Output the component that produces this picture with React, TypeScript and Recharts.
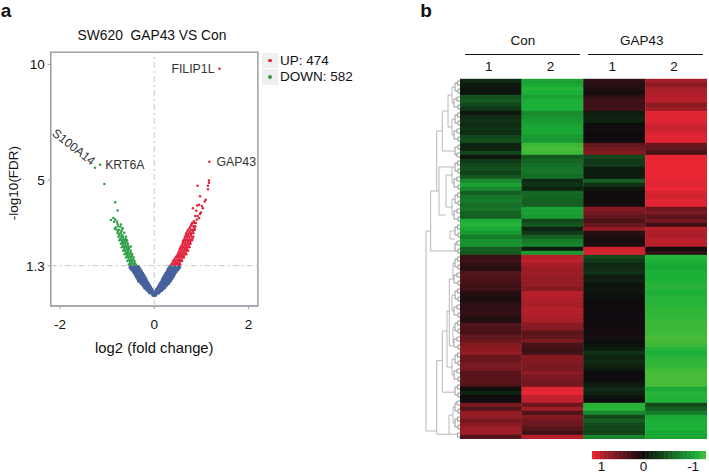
import {
  Bar,
  BarChart,
  Cell,
  Label,
  Legend,
  ReferenceArea,
  ReferenceDot,
  ReferenceLine,
  Scatter,
  ScatterChart,
  XAxis,
  YAxis,
} from "recharts";

const FONT = '"Liberation Sans", Arial, sans-serif';
const RED = "#e2203a";
const GREEN = "#2f9e44";
const BLUE = "#46619c";

// panel a: volcano plot, [log2 fold change, -log10 FDR]
const xTicks = [-2, 0, 2];
const yTicks = [1.3, 5, 10];

const notSigLeft = [
  [-0.02, 0.05], [-0.04, 0.15], [-0.09, 0.15], [-0.06, 0.25], [-0.1, 0.25], [-0.14, 0.25],
  [-0.09, 0.35], [-0.14, 0.35], [-0.19, 0.35], [-0.12, 0.45], [-0.17, 0.45], [-0.22, 0.45],
  [-0.15, 0.55], [-0.21, 0.55], [-0.27, 0.55], [-0.18, 0.65], [-0.25, 0.65], [-0.32, 0.65],
  [-0.2, 0.75], [-0.27, 0.75], [-0.34, 0.75], [-0.23, 0.85], [-0.3, 0.85], [-0.37, 0.85],
  [-0.26, 0.95], [-0.33, 0.95], [-0.4, 0.95], [-0.29, 1.05], [-0.37, 1.05], [-0.43, 1.05],
  [-0.32, 1.15], [-0.39, 1.15], [-0.47, 1.15], [-0.35, 1.23], [-0.43, 1.23], [-0.5, 1.23],
];
const notSigRight = [
  [0.02, 0.05], [0.04, 0.15], [0.09, 0.15], [0.06, 0.25], [0.11, 0.25], [0.15, 0.25],
  [0.09, 0.35], [0.15, 0.35], [0.2, 0.35], [0.12, 0.45], [0.18, 0.45], [0.24, 0.45],
  [0.15, 0.55], [0.22, 0.55], [0.29, 0.55], [0.18, 0.65], [0.26, 0.65], [0.33, 0.65],
  [0.2, 0.75], [0.28, 0.75], [0.36, 0.75], [0.23, 0.85], [0.31, 0.85], [0.39, 0.85],
  [0.26, 0.95], [0.34, 0.95], [0.42, 0.95], [0.29, 1.05], [0.37, 1.05], [0.45, 1.05],
  [0.31, 1.15], [0.4, 1.15], [0.49, 1.15], [0.34, 1.23], [0.43, 1.23], [0.52, 1.23],
];
const downPoints = [
  [-0.54, 1.35], [-0.49, 1.35], [-0.44, 1.35], [-0.39, 1.35],
  [-0.57, 1.5], [-0.52, 1.5], [-0.47, 1.5], [-0.42, 1.5],
  [-0.6, 1.65], [-0.55, 1.65], [-0.5, 1.65], [-0.44, 1.65],
  [-0.63, 1.8], [-0.58, 1.8], [-0.53, 1.8], [-0.47, 1.8],
  [-0.66, 1.95], [-0.61, 1.95], [-0.56, 1.95], [-0.5, 1.95],
  [-0.69, 2.1], [-0.64, 2.1], [-0.59, 2.1], [-0.54, 2.1], [-0.5, 2.13],
  [-0.71, 2.25], [-0.66, 2.25], [-0.61, 2.25], [-0.56, 2.25],
  [-0.74, 2.4], [-0.69, 2.4], [-0.63, 2.4], [-0.58, 2.4],
  [-0.76, 2.55], [-0.7, 2.55], [-0.66, 2.55], [-0.6, 2.55],
  [-0.78, 2.7], [-0.72, 2.7], [-0.64, 2.72],
  [-0.8, 2.85], [-0.75, 2.85], [-0.69, 2.85], [-0.82, 2.95], [-0.72, 2.98],
  [-0.78, 3.1], [-0.71, 3.08], [-0.85, 3.2], [-0.79, 3.2],
  [-0.515, 1.42], [-0.465, 1.42], [-0.415, 1.42], [-0.545, 1.57], [-0.495, 1.57], [-0.445, 1.57],
  [-0.575, 1.72], [-0.525, 1.72], [-0.475, 1.72], [-0.605, 1.87], [-0.555, 1.87], [-0.505, 1.87],
  [-0.635, 2.02], [-0.585, 2.02], [-0.535, 2.02], [-0.665, 2.17], [-0.615, 2.17], [-0.565, 2.17],
  [-0.685, 2.33], [-0.635, 2.33], [-0.59, 2.33], [-0.72, 2.47], [-0.66, 2.47], [-0.61, 2.47],
  [-0.74, 2.63], [-0.68, 2.63], [-0.77, 2.78], [-0.7, 2.78], [-0.84, 2.9], [-0.77, 3.0], [-0.67, 2.92],
  [-0.92, 3.28], [-0.87, 3.36], [-0.83, 3.3], [-0.78, 3.69], [-0.83, 4.04],
  [-1.06, 4.83], [-1.26, 5.53], [-1.15, 5.66],
];
const upPoints = [
  [0.36, 1.35], [0.41, 1.35], [0.46, 1.35], [0.51, 1.35], [0.55, 1.35],
  [0.4, 1.5], [0.45, 1.5], [0.5, 1.5], [0.55, 1.5], [0.59, 1.5],
  [0.45, 1.65], [0.5, 1.65], [0.55, 1.65], [0.6, 1.65], [0.63, 1.65],
  [0.5, 1.8], [0.55, 1.8], [0.6, 1.8], [0.65, 1.8], [0.68, 1.8],
  [0.53, 1.95], [0.58, 1.95], [0.63, 1.95], [0.68, 1.95], [0.72, 1.95],
  [0.56, 2.1], [0.61, 2.1], [0.66, 2.1], [0.7, 2.1], [0.75, 2.1],
  [0.6, 2.25], [0.65, 2.25], [0.7, 2.25], [0.75, 2.25], [0.77, 2.25],
  [0.62, 2.4], [0.67, 2.4], [0.72, 2.4], [0.77, 2.4], [0.8, 2.4],
  [0.65, 2.55], [0.7, 2.55], [0.74, 2.55], [0.79, 2.55], [0.83, 2.55],
  [0.68, 2.7], [0.74, 2.7], [0.78, 2.7], [0.83, 2.7],
  [0.72, 2.85], [0.78, 2.85], [0.82, 2.85], [0.86, 2.85],
  [0.77, 3.0], [0.83, 3.0], [0.87, 3.0], [0.8, 3.15], [0.85, 3.15], [0.88, 3.15],
  [0.385, 1.42], [0.435, 1.42], [0.485, 1.42], [0.535, 1.42], [0.425, 1.57], [0.475, 1.57],
  [0.525, 1.57], [0.575, 1.57], [0.475, 1.72], [0.525, 1.72], [0.575, 1.72], [0.625, 1.72],
  [0.515, 1.87], [0.565, 1.87], [0.615, 1.87], [0.665, 1.87], [0.545, 2.02], [0.595, 2.02],
  [0.645, 2.02], [0.695, 2.02], [0.58, 2.17], [0.63, 2.17], [0.68, 2.17], [0.73, 2.17],
  [0.61, 2.33], [0.66, 2.33], [0.71, 2.33], [0.76, 2.33], [0.64, 2.47], [0.69, 2.47],
  [0.75, 2.47], [0.81, 2.47], [0.67, 2.63], [0.72, 2.63], [0.78, 2.63], [0.7, 2.78],
  [0.76, 2.78], [0.82, 2.78], [0.75, 2.93], [0.85, 2.93], [0.79, 3.08], [0.84, 3.22],
  [0.9, 3.29], [0.95, 3.35], [0.87, 3.45], [0.92, 3.45], [0.97, 3.53], [0.99, 3.6],
  [0.89, 3.68], [0.82, 3.78], [1.03, 3.78], [1.01, 3.88], [0.91, 3.9], [0.95, 3.93],
  [1.07, 4.07], [1.09, 4.15], [0.97, 4.3], [1.14, 4.6], [0.92, 4.76], [1.14, 4.76],
  [1.16, 4.88], [1.16, 4.98], [1.17, 5.79], [1.385, 9.81],
];
const UP_COUNT = 474;
const DOWN_COUNT = 582;

// panel b: heat map, one value per row for each sample
const sampleLabels = ["1", "2", "1", "2"];
const groupLabels = ["Con", "GAP43"];
const con1 = [
  -0.2, -0.1, -0.05, -0.05, -0.45, -0.5, -0.4, -0.3, -0.05, -0.2, -0.25, -0.2, -0.25, -0.2, -0.4,
  -0.45, -0.15, -0.15, -0.4, -0.05, -0.3, -0.4, -0.45, -0.35, -0.5, -0.85, -1.0, -0.85, -0.55, -0.7,
  -0.75, -0.65, -0.7, -0.6, -0.55, -1.1, -1.15, -1.05, -0.95, -0.75, -0.9, -0.9, -0.55, -0.5,
  0.25, 0.3, 0.2, 0.15, 0.4, 0.4, 0.35, 0.3, 0.3, 0.15, 0.1, 0.1, 0.2, 0.2, 0.25, 0.15, 0.1, 0.4,
  0.35, 0.35, 0.5, 0.55, 0.7, 0.75, 0.8, 0.55, 0.55, 0.65, 0.65, 0.45, 0.45, 0.45, 0.4, -0.03,
  -0.15, 0.0, 0.02, 0.65, 0.4, 0.8, 0.8, 0.6, 0.75, 0.85, 0.85, 0.4,
];
const con2 = [
  -1.0, -1.05, -1.15, -1.1, -1.0, -1.1, -1.1, -1.1, -0.85, -0.9, -0.95, -1.0, -1.05, -1.05, -0.95,
  -0.95, -1.25, -1.3, -1.25, -0.5, -0.6, -0.65, -0.7, -0.7, -0.65, -0.2, -0.25, -0.15, -0.6, -0.6,
  -0.55, -0.55, -1.0, -1.0, -0.95, -0.4, -0.5, -0.15, -0.3, -0.55, -0.75, -0.8, -0.1, -0.95,
  1.0, 1.05, 0.9, 0.85, 0.85, 0.8, 0.8, 0.8, 0.7, 1.0, 1.0, 0.95, 0.9, 1.0, 1.0, 0.95, 0.9, 0.75,
  0.7, 0.45, 0.5, 0.65, 0.35, 0.3, 0.3, 0.7, 0.7, 0.65, 0.65, 0.75, 0.65, 0.6, 0.6, 1.25, 1.3, 1.1,
  1.05, 0.55, 0.85, 0.4, 0.7, 0.6, 0.55, 0.45, 0.3, 1.0,
];
const gap1 = [
  0.2, 0.15, 0.1, 0.05, 0.2, 0.3, 0.3, 0.3, -0.1, -0.15, -0.15, 0.0, 0.03, 0.0, 0.0, 0.0, 0.5, 0.6,
  0.7, -0.4, -0.3, -0.3, -0.1, -0.1, -0.1, -0.55, -0.25, -0.05, 0.0, 0.0, 0.0, 0.05, 0.7, 0.6, 0.5,
  0.35, 0.55, 0.8, 0.15, 0.1, 0.05, 0.1, 1.15, 1.2,
  -0.4, -0.3, -0.2, -0.2, -0.25, -0.1, -0.12, -0.05, -0.05, -0.05, -0.03, 0.0, 0.0, 0.0, 0.02, 0.02,
  0.02, 0.03, 0.03, 0.04, 0.08, -0.03, -0.03, -0.1, -0.25, -0.15, -0.2, -0.15, -0.1, 0.0, 0.0, -0.02,
  -0.1, -0.2, -0.15, -0.05, 0.0, -1.15, -1.15, -0.85, -0.4, -0.55, -0.4, -0.4, -0.35, -0.8,
];
const gap2 = [
  0.9, 0.75, 0.9, 0.95, 1.0, 1.0, 0.75, 0.85, 1.25, 1.25, 1.25, 1.15, 1.1, 1.2, 1.25, 1.25, 0.55,
  0.5, 0.35, 1.3, 1.3, 1.3, 1.3, 1.3, 1.3, 1.25, 1.25, 1.3, 1.2, 1.15, 1.25, 1.25, 0.55, 0.65, 0.45,
  0.6, 0.3, 1.0, 0.95, 0.95, 1.05, 1.0, 0.05, 0.2,
  -1.15, -1.1, -1.05, -1.05, -1.1, -1.1, -1.1, -1.15, -1.15, -1.1, -1.15, -1.15, -1.15, -1.2, -1.2,
  -1.2, -1.25, -1.25, -1.25, -1.25, -1.3, -1.3, -1.25, -1.15, -1.1, -1.15, -1.2, -1.2, -1.25, -1.3,
  -1.3, -1.3, -1.3, -1.05, -1.15, -1.15, -1.1, -0.4, -0.55, -0.75, -1.05, -1.1, -1.1, -1.1, -1.05,
  -1.05,
];
const colorbarSteps = [
  1.3, 1.15, 1, 0.9, 0.8, 0.72, 0.63, 0.54, 0.45, 0.36, 0.27, 0.18, 0.09, 0, -0.08, -0.16, -0.24,
  -0.32, -0.4, -0.48, -0.56, -0.64, -0.72, -0.8, -0.87, -0.94, -1, -1.1, -1.2, -1.3,
];
const colorbarTicks = [1, 0, -1];

// dendrogram merges: [height, top row, bottom row, height of top child, height of bottom child]
const dendroMerges = [
  [2.5, 0.5, 1.5, 0, 0], [2, 2.5, 3.5, 0, 0], [3, 4.5, 5.5, 0, 0], [2, 6.5, 7.5, 0, 0],
  [2.5, 8.5, 9.5, 0, 0], [2, 10.5, 11.5, 0, 0], [3, 12.5, 13.5, 0, 0], [2, 14.5, 15.5, 0, 0],
  [2, 16.5, 17.5, 0, 0], [3, 18.5, 19.5, 0, 0], [2.5, 20.5, 21.5, 0, 0], [2, 22.5, 23.5, 0, 0],
  [3, 24.5, 25.5, 0, 0], [2, 26.5, 27.5, 0, 0], [2.5, 28.5, 29.5, 0, 0], [2, 30.5, 31.5, 0, 0],
  [3, 32.5, 33.5, 0, 0], [2, 34.5, 35.5, 0, 0], [2.5, 36.5, 37.5, 0, 0], [2, 38.5, 39.5, 0, 0],
  [3, 40.5, 41.5, 0, 0], [2, 42.5, 43.5, 0, 0], [2.5, 44.5, 45.5, 0, 0], [2, 46.5, 47.5, 0, 0],
  [3, 48.5, 49.5, 0, 0], [2, 50.5, 51.5, 0, 0], [2.5, 52.5, 53.5, 0, 0], [2, 54.5, 55.5, 0, 0],
  [3, 56.5, 57.5, 0, 0], [2, 58.5, 59.5, 0, 0], [2.5, 60.5, 61.5, 0, 0], [2, 62.5, 63.5, 0, 0],
  [3, 64.5, 65.5, 0, 0], [2, 66.5, 67.5, 0, 0], [2.5, 68.5, 69.5, 0, 0], [2, 70.5, 71.5, 0, 0],
  [3, 72.5, 73.5, 0, 0], [2, 74.5, 75.5, 0, 0], [2.5, 76.5, 77.5, 0, 0], [2, 78.5, 79.5, 0, 0],
  [3, 80.5, 81.5, 0, 0], [2, 82.5, 83.5, 0, 0], [2.5, 84.5, 85.5, 0, 0], [2, 86.5, 87.5, 0, 0],
  [2.5, 88.5, 89.5, 0, 0],
  [5, 1, 3, 2.5, 2], [6, 5, 7, 3, 2], [5, 9, 11, 2.5, 2], [6, 13, 15, 3, 2], [5, 17, 19, 2, 3],
  [5, 21, 23, 2.5, 2], [6, 25, 27, 3, 2], [5, 29, 31, 2.5, 2], [6, 33, 35, 3, 2], [5, 37, 39, 2.5, 2],
  [5, 41, 43, 3, 2], [5, 45, 47, 2.5, 2], [6, 49, 51, 3, 2], [5, 53, 55, 2.5, 2], [6, 57, 59, 3, 2],
  [5, 61, 63, 2.5, 2], [6, 65, 67, 3, 2], [5, 69, 71, 2.5, 2], [6, 73, 75, 3, 2], [5, 77, 79, 2.5, 2],
  [5, 81, 83, 3, 2], [5, 85, 87, 2.5, 2],
  [8, 2, 6, 5, 6], [8, 10, 14, 5, 6], [8, 22, 26, 5, 6], [8, 30, 34, 5, 6], [7, 46, 50, 5, 6],
  [8, 54, 58, 5, 6], [7, 62, 66, 5, 6], [8, 70, 74, 5, 6], [7, 82, 86, 5, 5],
  [12, 4, 12, 8, 8], [17.7, 8, 18, 12, 5], [14, 24, 32, 8, 8], [10, 38, 40, 5, 5],
  [23.3, 13, 28, 17.7, 21], [21, 22, 34, 8, 14], [29.3, 28, 43, 23.3, 5],
  [10.7, 50, 66.7, 7, 7], [13, 58, 72, 10.7, 8], [17.7, 63, 78.3, 13, 5],
  [11, 84, 88.8, 7, 2.5], [23.3, 70.4, 88.8, 17.7, 11], [34, 38, 88, 29.3, 23.3],
];

const heatRows = con1.map((_, i) => ({
  row: i,
  w1: 1,
  w2: 1,
  w3: 1,
  w4: 1,
}));
const heatColumns = [con1, con2, gap1, gap2];
const heatKeys = ["w1", "w2", "w3", "w4"];
const colorbarRows = colorbarSteps.map((step) => ({ step, h: 1 }));
const dendroLeaves = con1.map((_, i) => ({ h: 0, r: i + 0.5 }));

const toPoints = (list: number[][]) => list.map(([x, y]) => ({ x, y }));

const mix = (a: number[], b: number[], t: number) =>
  `rgb(${a.map((c, i) => Math.round(c + (b[i] - c) * t)).join(",")})`;

// 0 = black, positive goes to red, negative to green
const heatColor = (v: number) => {
  if (v >= 0) return mix([14, 12, 14], [232, 38, 52], Math.min(v / 1.3, 1));
  if (v >= -1.1) return mix([13, 13, 12], [28, 176, 56], -v / 1.1);
  return mix([28, 176, 56], [72, 188, 58], Math.min((-v - 1.1) / 0.2, 1));
};

const dot = (r: number) => (props: any) =>
  <circle cx={props.cx} cy={props.cy} r={r} fill={props.fill} />;

const VolcanoLegend = (props: any) => (
  <div style={{ fontFamily: FONT, fontSize: 13.5, color: "#111" }}>
    {props.payload
      .filter((p: any) => p.type !== "none")
      .map((p: any) => (
        <div key={p.value} style={{ display: "flex", alignItems: "center", height: 16.3 }}>
          <div
            style={{
              width: 16.5,
              height: 15.5,
              background: "#efefef",
              marginRight: 2,
              display: "flex",
              alignItems: "center",
              justifyContent: "center",
            }}
          >
            <div style={{ width: 3.5, height: 3.5, borderRadius: 2, background: p.color }} />
          </div>
          {p.value}
        </div>
      ))}
  </div>
);

const Text = ({ x, y, size, bold, children }: any) => (
  <div
    style={{
      position: "absolute",
      left: x,
      top: y,
      fontFamily: FONT,
      fontSize: size,
      fontWeight: bold ? 700 : 400,
      lineHeight: 1,
      color: "#111",
      whiteSpace: "pre",
      transform: "translate(-50%, -50%)",
    }}
  >
    {children}
  </div>
);

const geneLabel = { fontFamily: FONT, fontSize: 12.3, fill: "#333" };
const dendroColor = (h: number) => (h < 7 ? "#8e8e8e" : "#b0b0b0");

export default function App() {
  return (
    <div style={{ position: "absolute", left: 0, top: 0, width: 709, height: 474, background: "#fff", overflow: "hidden" }}>
      <Text x={6} y={9.5} size={19} bold>a</Text>
      <Text x={426} y={9.5} size={19} bold>b</Text>
      <Text x={152} y={35.5} size={13.8}>{"SW620  GAP43 VS Con"}</Text>

      <div style={{ position: "absolute", left: 0, top: 0 }}>
        <ScatterChart width={370} height={360} margin={{ top: 52.3, right: 7.1, bottom: 4, left: 0 }}>
          <XAxis
            type="number"
            dataKey="x"
            domain={[-2.2, 2.2]}
            ticks={xTicks}
            height={50}
            tickSize={3}
            tickMargin={10}
            stroke="#a0a0a0"
            tick={{ fontFamily: FONT, fontSize: 13.5, fill: "#111" }}
          >
            <Label value="log2 (fold change)" position="insideBottom" offset={3} style={{ fontFamily: FONT, fontSize: 14.8, fill: "#111" }} />
          </XAxis>
          <YAxis
            type="number"
            dataKey="y"
            domain={[-0.44, 10.52]}
            ticks={yTicks}
            width={50.7}
            tickSize={3}
            tickMargin={3}
            stroke="#a0a0a0"
            tick={{ fontFamily: FONT, fontSize: 13.5, fill: "#111" }}
          >
            <Label value="-log10(FDR)" angle={-90} position="insideLeft" offset={13} dy={41} style={{ fontFamily: FONT, fontSize: 13.5, fill: "#111" }} />
          </YAxis>
          <ReferenceArea x1={-2.2} x2={2.2} y1={-0.44} y2={10.52} fill="none" stroke="#a0a0a0" strokeWidth={1.5} />
          <ReferenceLine segment={[{ x: 0, y: -0.44 }, { x: 2.2, y: -0.44 }]} stroke="#aab6d4" strokeWidth={1.5} />
          <ReferenceLine x={0} stroke="#d4d4d4" strokeWidth={1.2} strokeDasharray="6 3 2 3" />
          <ReferenceLine y={1.3} stroke="#d8cfd0" strokeWidth={1.2} strokeDasharray="6 3 2 3" />
          <Scatter name="NS" data={toPoints(notSigLeft)} fill={BLUE} shape={dot(2.3)} legendType="none" isAnimationActive={false} />
          <Scatter name="NS right" data={toPoints(notSigRight)} fill={BLUE} shape={dot(2.3)} legendType="none" isAnimationActive={false} />
          <Scatter name={`UP: ${UP_COUNT}`} data={toPoints(upPoints)} fill={RED} shape={dot(1.25)} isAnimationActive={false} />
          <Scatter name={`DOWN: ${DOWN_COUNT}`} data={toPoints(downPoints)} fill={GREEN} shape={dot(1.25)} isAnimationActive={false} />
          <ReferenceDot x={1.385} y={9.81} r={0} label={{ value: "FILIP1L", position: "left", offset: 5, ...geneLabel }} />
          <ReferenceDot x={1.17} y={5.79} r={0} label={{ value: "GAP43", position: "right", offset: 7, ...geneLabel }} />
          <ReferenceDot x={-1.15} y={5.66} r={0} label={{ value: "KRT6A", position: "right", offset: 5, ...geneLabel }} />
          <ReferenceDot x={-1.26} y={5.53} r={0}>
            <Label value="S100A14" angle={38} dx={-21} dy={-21} style={geneLabel} />
          </ReferenceDot>
          <Legend
            content={VolcanoLegend}
            layout="vertical"
            verticalAlign="top"
            align="right"
            itemSorter={null}
            wrapperStyle={{ left: 261.5, top: 52.5, width: 105 }}
          />
        </ScatterChart>
      </div>

      <Text x={523} y={41} size={13.5}>{groupLabels[0]}</Text>
      <Text x={641.7} y={41} size={13.5}>{groupLabels[1]}</Text>
      <div style={{ position: "absolute", left: 465, top: 53.5, width: 115, height: 1.4, background: "#111" }} />
      <div style={{ position: "absolute", left: 587.7, top: 53.5, width: 115, height: 1.4, background: "#111" }} />

      <div style={{ position: "absolute", left: 420, top: 79 }}>
        <ScatterChart width={40} height={360} margin={{ top: 0, right: 0, bottom: 0, left: 0 }}>
          <XAxis type="number" dataKey="h" domain={[0, 40]} reversed hide />
          <YAxis type="number" dataKey="r" domain={[0, 90]} reversed hide />
          <Scatter data={dendroLeaves} fill="#8e8e8e" shape={dot(0.3)} isAnimationActive={false} />
          {dendroMerges.flatMap(([h, y1, y2, h1, h2], i) => [
            <ReferenceLine key={`v${i}`} segment={[{ x: h, y: y1 }, { x: h, y: y2 }]} stroke={dendroColor(h)} strokeWidth={0.9} />,
            <ReferenceLine key={`a${i}`} segment={[{ x: h, y: y1 }, { x: h1, y: y1 }]} stroke={dendroColor(h)} strokeWidth={0.9} />,
            <ReferenceLine key={`b${i}`} segment={[{ x: h, y: y2 }, { x: h2, y: y2 }]} stroke={dendroColor(h)} strokeWidth={0.9} />,
          ])}
        </ScatterChart>
      </div>

      <div style={{ position: "absolute", left: 460, top: 59 }}>
        <BarChart
          layout="vertical"
          width={247}
          height={380}
          data={heatRows}
          barCategoryGap={0}
          margin={{ top: 0, right: 0, bottom: 0, left: 0 }}
        >
          <XAxis
            type="number"
            orientation="top"
            domain={[0, 4]}
            ticks={[0.5, 1.5, 2.5, 3.5]}
            height={20}
            axisLine={false}
            tickLine={false}
            tickFormatter={(_, i) => sampleLabels[i]}
            tick={{ fontFamily: FONT, fontSize: 13.5, fill: "#111", dx: -2 }}
          />
          <YAxis type="category" dataKey="row" hide />
          {heatKeys.map((key, c) => (
            <Bar key={key} dataKey={key} stackId="heat" isAnimationActive={false}>
              {heatRows.map((r) => (
                <Cell
                  key={r.row}
                  fill={heatColor(heatColumns[c][r.row])}
                  stroke={heatColor(heatColumns[c][r.row])}
                  strokeWidth={0.4}
                />
              ))}
            </Bar>
          ))}
        </BarChart>
      </div>

      <div style={{ position: "absolute", left: 591.5, top: 451 }}>
        <BarChart
          width={114.5}
          height={23}
          data={colorbarRows}
          barCategoryGap={0}
          margin={{ top: 0, right: 0, bottom: 0, left: 0 }}
        >
          <XAxis
            dataKey="step"
            type="category"
            ticks={colorbarTicks}
            interval={0}
            height={15}
            axisLine={false}
            tickLine={false}
            tickSize={2.5}
            tickMargin={0}
            tick={{ fontFamily: FONT, fontSize: 13.5, fill: "#111" }}
          />
          <YAxis type="number" domain={[0, 1]} hide />
          <Bar dataKey="h" isAnimationActive={false}>
            {colorbarRows.map((r) => (
              <Cell key={r.step} fill={heatColor(r.step)} stroke={heatColor(r.step)} strokeWidth={0.4} />
            ))}
          </Bar>
        </BarChart>
      </div>
    </div>
  );
}
